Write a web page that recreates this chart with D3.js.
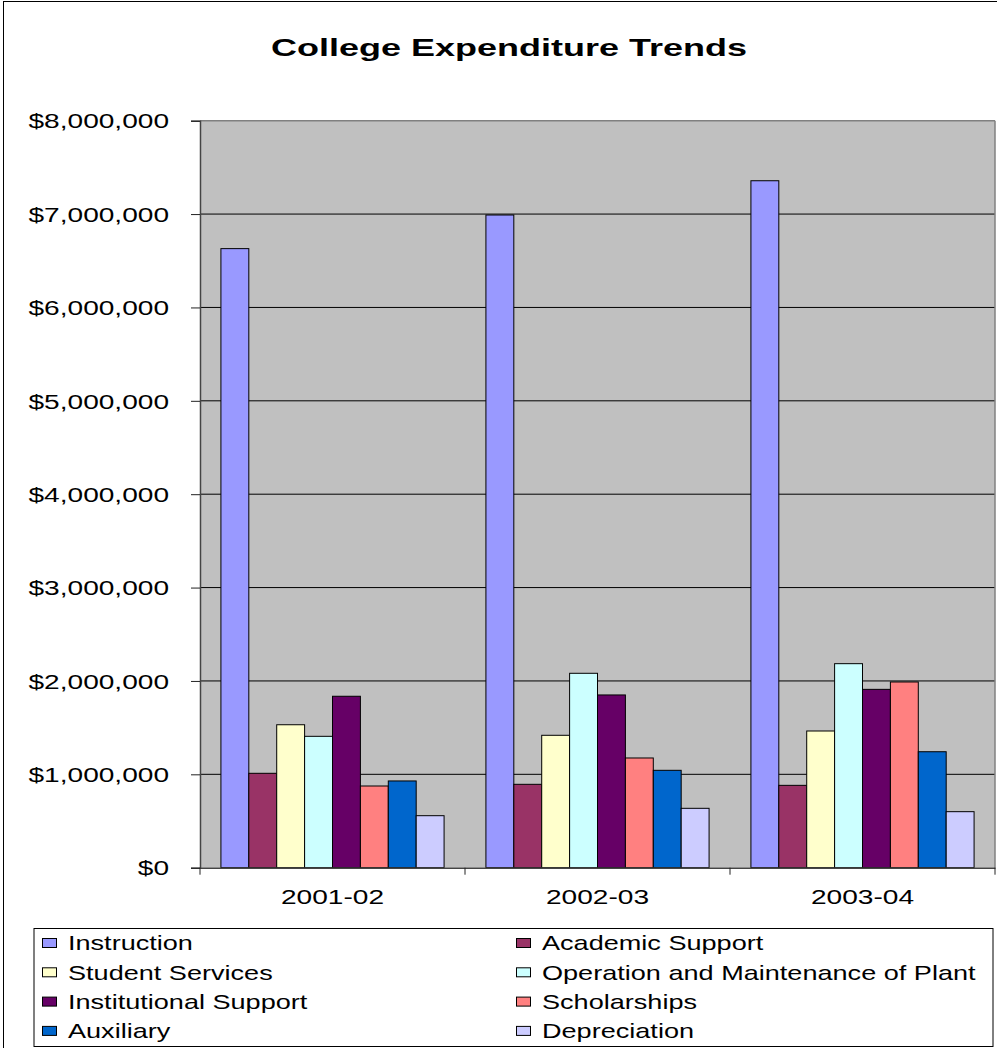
<!DOCTYPE html>
<html>
<head>
<meta charset="utf-8">
<script src="https://cdn.jsdelivr.net/npm/d3@7"></script>
<style>
  html, body { margin: 0; padding: 0; background: #fff; }
  svg { display: block; font-family: "Liberation Sans", Arial, sans-serif; }
</style>
</head>
<body>
<svg id="chart" width="997" height="1048"></svg>
<script>
// ---- data ----
const title = "College Expenditure Trends";
const categories = ["2001-02", "2002-03", "2003-04"];
const seriesNames = [
  "Instruction", "Academic Support", "Student Services",
  "Operation and Maintenance of Plant", "Institutional Support",
  "Scholarships", "Auxiliary", "Depreciation"
];
const seriesColors = ["#9999FF", "#993366", "#FFFFCC", "#CCFFFF", "#660066", "#FF8080", "#0066CC", "#CCCCFF"];
const instruction        = [6630000, 6990000, 7357000];
const academicSupport    = [1011000,  893000,  882000];
const studentServices    = [1531000, 1418000, 1464000];
const operationPlant     = [1407000, 2082000, 2185000];
const institutional      = [1836000, 1850000, 1910000];
const scholarships       = [ 875000, 1175000, 1989000];
const auxiliary          = [ 929000, 1043000, 1242000];
const depreciation       = [ 557000,  636000,  600000];
const yTicks = [0, 1000000, 2000000, 3000000, 4000000, 5000000, 6000000, 7000000, 8000000];

const seriesValues = [instruction, academicSupport, studentServices, operationPlant,
                      institutional, scholarships, auxiliary, depreciation];

// ---- layout ----
const SX = 1.37; // horizontal text stretch seen in the reference
const svg = d3.select("#chart");
const plot = { left: 200, right: 995, top: 120.7, bottom: 867.7 };

// outer chart border
svg.append("rect").attr("x", 3.5).attr("y", 1.5).attr("width", 1000).attr("height", 1060)
  .attr("fill", "#fff").attr("stroke", "#000").attr("stroke-width", 1);

const x0 = d3.scaleBand().domain(categories).range([plot.left, plot.right]).padding(0);
const x1 = d3.scaleBand().domain(seriesNames).range([0, x0.bandwidth()])
  .paddingInner(0).paddingOuter(0.75);
const y = d3.scaleLinear().domain([0, 8000000]).range([plot.bottom, plot.top]);
const color = d3.scaleOrdinal().domain(seriesNames).range(seriesColors);

// plot background
svg.append("rect").attr("x", plot.left).attr("y", plot.top)
  .attr("width", plot.right - plot.left).attr("height", plot.bottom - plot.top)
  .attr("fill", "#C0C0C0");

// gridlines
svg.append("g").selectAll("line").data(yTicks.filter(d => d > 0)).join("line")
  .attr("x1", plot.left).attr("x2", plot.right)
  .attr("y1", d => y(d)).attr("y2", d => y(d))
  .attr("stroke", d => d === 8000000 ? "#808080" : "#000").attr("stroke-width", d => d === 8000000 ? 1.5 : 1);

// right plot border
svg.append("line").attr("x1", plot.right).attr("x2", plot.right)
  .attr("y1", plot.top).attr("y2", plot.bottom).attr("stroke", "#808080").attr("stroke-width", 1.5);

// bars
const groups = svg.append("g").selectAll("g").data(categories).join("g")
  .attr("transform", d => `translate(${x0(d)},0)`);
groups.selectAll("rect")
  .data((c, ci) => seriesNames.map((s, si) => ({ s, v: seriesValues[si][ci] })))
  .join("rect")
  .attr("x", d => x1(d.s)).attr("width", x1.bandwidth())
  .attr("y", d => y(d.v)).attr("height", d => y(0) - y(d.v))
  .attr("fill", d => color(d.s)).attr("stroke", "#000").attr("stroke-width", 1);

// y axis
const yAxis = d3.axisLeft(y).tickValues(yTicks).tickSize(9).tickFormat(d3.format("$,.0f"));
const yg = svg.append("g").attr("transform", `translate(${plot.left},0)`).call(yAxis);
yg.select(".domain").attr("stroke", "#444").attr("stroke-width", 1.5);
yg.selectAll(".tick line").attr("stroke", "#222");
yg.selectAll(".tick text")
  .attr("x", -31 / SX).attr("dy", "0.35em")
  .attr("transform", `scale(${SX},1)`)
  .attr("font-size", 20.5).attr("fill", "#000").attr("text-anchor", "end")
  .style("font-family", "Liberation Sans, Arial, sans-serif");

// x axis
const xAxis = d3.axisBottom(x0).tickSize(0).tickPadding(0);
const xg = svg.append("g").attr("transform", `translate(0,${plot.bottom})`).call(xAxis);
xg.select(".domain").attr("stroke", "#444").attr("stroke-width", 1.5);
xg.selectAll(".tick text")
  .attr("y", 36).attr("dy", 0)
  .attr("transform", `scale(${SX},1)`)
  .attr("x", 0)
  .attr("font-size", 20.5).attr("fill", "#000")
  .style("font-family", "Liberation Sans, Arial, sans-serif");
// category boundary ticks
const bounds = categories.map(c => x0(c)).concat([x0(categories[categories.length - 1]) + x0.bandwidth()]);
svg.append("g").selectAll("line").data(bounds).join("line")
  .attr("x1", d => d).attr("x2", d => d)
  .attr("y1", plot.bottom).attr("y2", plot.bottom + 7)
  .attr("stroke", "#222").attr("stroke-width", 1);

// title
svg.append("text")
  .attr("transform", `translate(509,56) scale(1.47,1)`)
  .attr("text-anchor", "middle").attr("font-size", 24.5).attr("font-weight", "bold")
  .text(title);

// legend
const LSX = 1.355;
const lg = svg.append("g");
lg.append("rect").attr("x", 34).attr("y", 928.5).attr("width", 959).attr("height", 118)
  .attr("fill", "#fff").attr("stroke", "#000").attr("stroke-width", 1);
const legendItems = lg.selectAll("g.item").data(seriesNames).join("g").attr("class", "item")
  .attr("transform", (d, i) => `translate(${i % 2 === 0 ? 42 : 516},${943 + Math.floor(i / 2) * 29.3})`);
legendItems.append("rect").attr("x", 0.5).attr("y", -4.5).attr("width", 14).attr("height", 9)
  .attr("fill", d => color(d)).attr("stroke", "#000").attr("stroke-width", 1);
legendItems.append("text")
  .attr("transform", `translate(26,0) scale(${LSX},1)`)
  .attr("dy", "0.36em").attr("font-size", 20).attr("fill", "#000")
  .text(d => d);
</script>
</body>
</html>
